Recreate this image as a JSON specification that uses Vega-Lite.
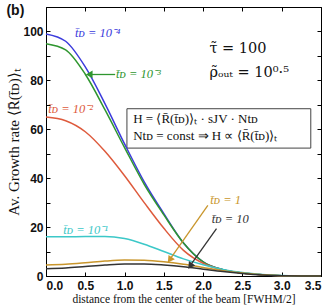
{
  "$schema": "https://vega.github.io/schema/vega-lite/v6.json",
  "width": 275,
  "height": 269,
  "autosize": {"type": "none"},
  "padding": {"left": 46, "top": 7, "right": 6, "bottom": 30},
  "background": "white",
  "config": {
    "view": {"stroke": "#000", "strokeWidth": 1},
    "axis": {"grid": false, "domainColor": "#000", "tickColor": "#000", "labelFont": "Liberation Sans", "labelFontSize": 12, "labelFontWeight": "bold", "labelColor": "#111", "titleFont": "Liberation Serif", "titleFontWeight": "normal", "titleColor": "#111"}
  },
  "datasets": {
    "curves": [
      {"s": "1e-4", "x": 0, "y": 99}, {"s": "1e-4", "x": 0.25, "y": 96}, {"s": "1e-4", "x": 0.5, "y": 85.5}, {"s": "1e-4", "x": 0.75, "y": 70.5}, {"s": "1e-4", "x": 1.0, "y": 54}, {"s": "1e-4", "x": 1.25, "y": 38.5}, {"s": "1e-4", "x": 1.5, "y": 25.5}, {"s": "1e-4", "x": 1.75, "y": 13.5}, {"s": "1e-4", "x": 2.0, "y": 5.8}, {"s": "1e-4", "x": 2.25, "y": 2.6}, {"s": "1e-4", "x": 2.5, "y": 1.2}, {"s": "1e-4", "x": 2.75, "y": 0.5}, {"s": "1e-4", "x": 3.0, "y": 0.15}, {"s": "1e-4", "x": 3.25, "y": 0.05}, {"s": "1e-4", "x": 3.5, "y": 0},
      {"s": "1e-3", "x": 0, "y": 95}, {"s": "1e-3", "x": 0.25, "y": 92.5}, {"s": "1e-3", "x": 0.5, "y": 82.5}, {"s": "1e-3", "x": 0.75, "y": 68}, {"s": "1e-3", "x": 1.0, "y": 52.5}, {"s": "1e-3", "x": 1.25, "y": 37.5}, {"s": "1e-3", "x": 1.5, "y": 25}, {"s": "1e-3", "x": 1.75, "y": 13.5}, {"s": "1e-3", "x": 2.0, "y": 5.8}, {"s": "1e-3", "x": 2.25, "y": 2.6}, {"s": "1e-3", "x": 2.5, "y": 1.2}, {"s": "1e-3", "x": 2.75, "y": 0.5}, {"s": "1e-3", "x": 3.0, "y": 0.15}, {"s": "1e-3", "x": 3.25, "y": 0.05}, {"s": "1e-3", "x": 3.5, "y": 0},
      {"s": "1e-2", "x": 0, "y": 65}, {"s": "1e-2", "x": 0.25, "y": 63.5}, {"s": "1e-2", "x": 0.5, "y": 59}, {"s": "1e-2", "x": 0.75, "y": 51}, {"s": "1e-2", "x": 1.0, "y": 41}, {"s": "1e-2", "x": 1.25, "y": 30}, {"s": "1e-2", "x": 1.5, "y": 19.5}, {"s": "1e-2", "x": 1.75, "y": 10.5}, {"s": "1e-2", "x": 2.0, "y": 5.2}, {"s": "1e-2", "x": 2.25, "y": 2.5}, {"s": "1e-2", "x": 2.5, "y": 1.2}, {"s": "1e-2", "x": 2.75, "y": 0.5}, {"s": "1e-2", "x": 3.0, "y": 0.15}, {"s": "1e-2", "x": 3.25, "y": 0.05}, {"s": "1e-2", "x": 3.5, "y": 0},
      {"s": "1e-1", "x": 0, "y": 16}, {"s": "1e-1", "x": 0.25, "y": 16}, {"s": "1e-1", "x": 0.5, "y": 16.2}, {"s": "1e-1", "x": 0.75, "y": 16.2}, {"s": "1e-1", "x": 1.0, "y": 15.3}, {"s": "1e-1", "x": 1.25, "y": 13}, {"s": "1e-1", "x": 1.5, "y": 10}, {"s": "1e-1", "x": 1.75, "y": 7}, {"s": "1e-1", "x": 2.0, "y": 4.6}, {"s": "1e-1", "x": 2.25, "y": 2.7}, {"s": "1e-1", "x": 2.5, "y": 1.4}, {"s": "1e-1", "x": 2.75, "y": 0.6}, {"s": "1e-1", "x": 3.0, "y": 0.2}, {"s": "1e-1", "x": 3.25, "y": 0.05}, {"s": "1e-1", "x": 3.5, "y": 0},
      {"s": "1", "x": 0, "y": 4.5}, {"s": "1", "x": 0.25, "y": 4.8}, {"s": "1", "x": 0.5, "y": 5.4}, {"s": "1", "x": 0.75, "y": 6.1}, {"s": "1", "x": 1.0, "y": 6.5}, {"s": "1", "x": 1.25, "y": 6.4}, {"s": "1", "x": 1.5, "y": 5.8}, {"s": "1", "x": 1.75, "y": 4.8}, {"s": "1", "x": 2.0, "y": 3.5}, {"s": "1", "x": 2.25, "y": 2.2}, {"s": "1", "x": 2.5, "y": 1.2}, {"s": "1", "x": 2.75, "y": 0.5}, {"s": "1", "x": 3.0, "y": 0.15}, {"s": "1", "x": 3.25, "y": 0.05}, {"s": "1", "x": 3.5, "y": 0},
      {"s": "10", "x": 0, "y": 3.0}, {"s": "10", "x": 0.25, "y": 3.3}, {"s": "10", "x": 0.5, "y": 3.9}, {"s": "10", "x": 0.75, "y": 4.5}, {"s": "10", "x": 1.0, "y": 4.9}, {"s": "10", "x": 1.25, "y": 4.9}, {"s": "10", "x": 1.5, "y": 4.5}, {"s": "10", "x": 1.75, "y": 3.8}, {"s": "10", "x": 2.0, "y": 2.8}, {"s": "10", "x": 2.25, "y": 1.8}, {"s": "10", "x": 2.5, "y": 1.0}, {"s": "10", "x": 2.75, "y": 0.4}, {"s": "10", "x": 3.0, "y": 0.1}, {"s": "10", "x": 3.25, "y": 0.03}, {"s": "10", "x": 3.5, "y": 0}
    ],
    "arrows": [
      {"s": "1e-3", "x": 0.88, "y": 82.4, "x2": 0.55, "y2": 82.4},
      {"s": "1", "x": 2.06, "y": 28.9, "x2": 1.57, "y2": 6.5},
      {"s": "10", "x": 2.17, "y": 19.4, "x2": 1.83, "y2": 4.0}
    ],
    "headsLeft": [
      {"s": "1e-3", "x": 0.55, "y": 82.4}
    ],
    "headsDiag": [
      {"s": "1", "x": 1.575, "y": 6.6},
      {"s": "10", "x": 1.835, "y": 4.1}
    ],
    "labels": [
      {"s": "1e-4", "x": 0.37, "y": 99.3, "label": "t̄ᴅ = 10⁻⁴"},
      {"s": "1e-3", "x": 0.89, "y": 82.5, "label": "t̄ᴅ = 10⁻³"},
      {"s": "1e-2", "x": 0.03, "y": 68.3, "label": "t̄ᴅ = 10⁻²"},
      {"s": "1e-1", "x": 0.22, "y": 19.0, "label": "t̄ᴅ = 10⁻¹"},
      {"s": "1", "x": 2.09, "y": 30.9, "label": "t̄ᴅ = 1"},
      {"s": "10", "x": 2.11, "y": 23.2, "label": "t̄ᴅ = 10"}
    ],
    "params": [
      {"x": 2.08, "y": 92.7, "label": "τ̃ = 100"},
      {"x": 2.08, "y": 83.0, "label": "ρ̃ₒᵤₜ = 10⁰·⁵"}
    ],
    "panel": [
      {"x": -0.39, "y": 108.2, "label": "(b)"}
    ],
    "box": [
      {"x": 1.03, "x2": 3.37, "y": 52.3, "y2": 68.4}
    ],
    "boxtext": [
      {"x": 1.11, "y": 64.2, "label": "H = ⟨R̄(t̄ᴅ)⟩ₜ · sJV · Ntᴅ"},
      {"x": 1.11, "y": 57.3, "label": "Ntᴅ = const ⇒ H ∝ ⟨R̄(t̄ᴅ)⟩ₜ"}
    ]
  },
  "layer": [
    {
      "data": {"name": "box"},
      "mark": {"type": "rect", "fill": "white", "stroke": "#444", "strokeWidth": 1},
      "encoding": {
        "x": {"field": "x", "type": "quantitative", "scale": {"domain": [0, 3.5], "nice": false}, "axis": {"orient": "top", "values": [0, 0.5, 1, 1.5, 2, 2.5, 3, 3.5], "labels": false, "title": null, "tickSize": -4, "domain": false}},
        "x2": {"field": "x2"},
        "y": {"field": "y", "type": "quantitative", "scale": {"domain": [0, 110], "nice": false}, "axis": {"orient": "right", "values": [0, 10, 20, 30, 40, 50, 60, 70, 80, 90, 100, 110], "labels": false, "title": null, "tickSize": -4, "domain": false}},
        "y2": {"field": "y2"}
      }
    },
    {
      "data": {"name": "curves"},
      "mark": {"type": "line", "interpolate": "monotone", "strokeWidth": 1.5},
      "encoding": {
        "x": {"field": "x", "type": "quantitative", "axis": {"orient": "bottom", "values": [0, 0.5, 1, 1.5, 2, 2.5, 3, 3.5], "tickSize": -4, "labelPadding": 8, "title": "distance from the center of the beam [FWHM/2]", "titleFontSize": 11.5, "titlePadding": 2}},
        "y": {"field": "y", "type": "quantitative", "axis": {"orient": "left", "values": [0, 10, 20, 30, 40, 50, 60, 70, 80, 90, 100, 110], "labelExpr": "datum.value % 20 == 0 && datum.value <= 100 ? datum.label : ''", "tickSize": -4, "labelPadding": 7, "title": "Av. Growth rate ⟨R̄(t̄ᴅ)⟩ₜ", "titleFontSize": 15, "titlePadding": 1}},
        "color": {"field": "s", "type": "nominal", "legend": null, "scale": {"domain": ["1e-4", "1e-3", "1e-2", "1e-1", "1", "10"], "range": ["#3b3bdc", "#2f962f", "#de5a3c", "#3cc8c8", "#c9962c", "#333333"]}},
        "detail": {"field": "s"}
      }
    },
    {
      "data": {"name": "arrows"},
      "mark": {"type": "rule", "strokeWidth": 1.3},
      "encoding": {
        "x": {"field": "x", "type": "quantitative", "axis": null},
        "y": {"field": "y", "type": "quantitative", "axis": null},
        "x2": {"field": "x2"},
        "y2": {"field": "y2"},
        "color": {"field": "s", "type": "nominal", "legend": null}
      }
    },
    {
      "data": {"name": "headsLeft"},
      "mark": {"type": "point", "shape": "triangle-left", "filled": true, "size": 60, "opacity": 1},
      "encoding": {
        "x": {"field": "x", "type": "quantitative", "axis": null},
        "y": {"field": "y", "type": "quantitative", "axis": null},
        "color": {"field": "s", "type": "nominal", "legend": null}
      }
    },
    {
      "data": {"name": "headsDiag"},
      "mark": {"type": "point", "shape": "triangle-up", "angle": 215, "filled": true, "size": 60, "opacity": 1},
      "encoding": {
        "x": {"field": "x", "type": "quantitative", "axis": null},
        "y": {"field": "y", "type": "quantitative", "axis": null},
        "color": {"field": "s", "type": "nominal", "legend": null}
      }
    },
    {
      "data": {"name": "labels"},
      "mark": {"type": "text", "align": "left", "baseline": "middle", "font": "Liberation Serif", "fontSize": 12.5, "fontStyle": "italic"},
      "encoding": {
        "x": {"field": "x", "type": "quantitative", "axis": null},
        "y": {"field": "y", "type": "quantitative", "axis": null},
        "text": {"field": "label"},
        "color": {"field": "s", "type": "nominal", "legend": null}
      }
    },
    {
      "data": {"name": "params"},
      "mark": {"type": "text", "align": "left", "baseline": "middle", "font": "DejaVu Serif", "fontSize": 14.5, "color": "#111"},
      "encoding": {
        "x": {"field": "x", "type": "quantitative", "axis": null},
        "y": {"field": "y", "type": "quantitative", "axis": null},
        "text": {"field": "label"}
      }
    },
    {
      "data": {"name": "boxtext"},
      "mark": {"type": "text", "align": "left", "baseline": "middle", "font": "Liberation Serif", "fontSize": 13, "color": "#111"},
      "encoding": {
        "x": {"field": "x", "type": "quantitative", "axis": null},
        "y": {"field": "y", "type": "quantitative", "axis": null},
        "text": {"field": "label"}
      }
    },
    {
      "data": {"name": "panel"},
      "mark": {"type": "text", "align": "center", "baseline": "middle", "font": "Liberation Sans", "fontSize": 14, "fontWeight": "bold", "color": "#111"},
      "encoding": {
        "x": {"field": "x", "type": "quantitative", "axis": null},
        "y": {"field": "y", "type": "quantitative", "axis": null},
        "text": {"field": "label"}
      }
    }
  ]
}
